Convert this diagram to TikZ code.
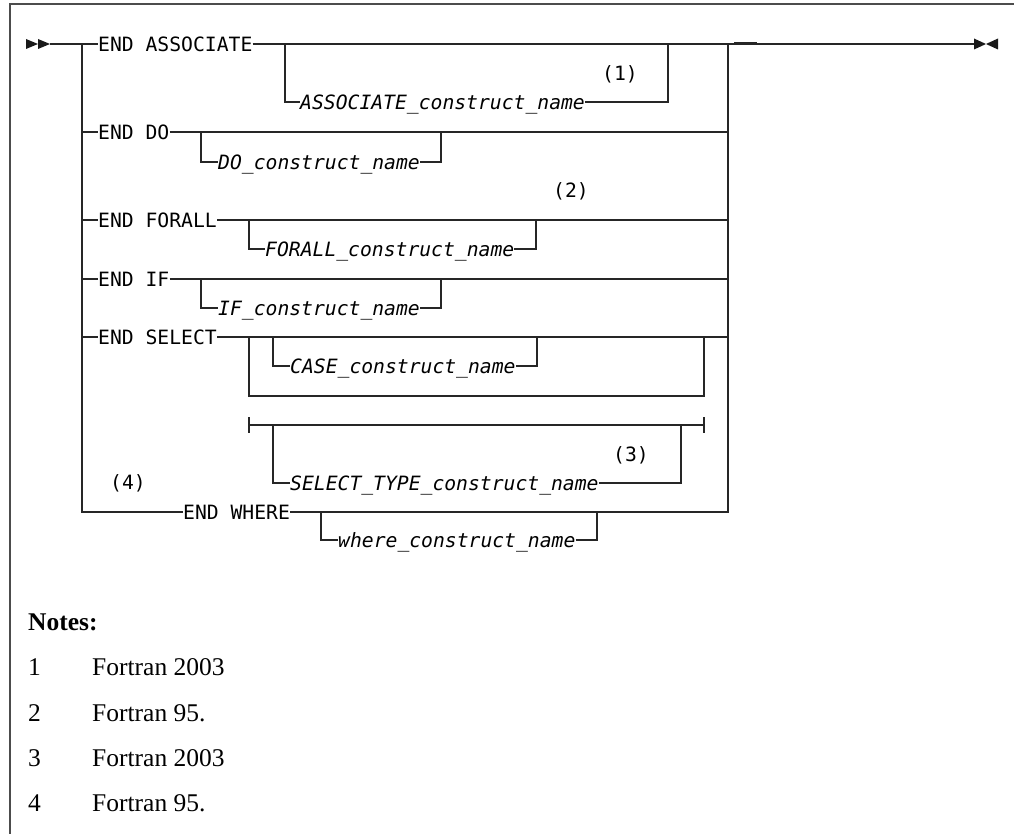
\documentclass[tikz,border=0pt]{standalone}
\usepackage{fontspec}
\newfontfamily\railfont{DejaVu Sans Mono}
\newfontfamily\notefont{Liberation Serif}
\usetikzlibrary{positioning}

\begin{document}
\begin{tikzpicture}[
        x=1pt, y=-1pt,
        rail/.style={line width=1.2pt, draw=black!85},
        keyword/.style={font=\railfont\fontsize{19.7}{24}\selectfont, inner sep=0pt, text height=14.4pt, text depth=0pt, anchor=west},
        varname/.style={keyword, font=\railfont\itshape\fontsize{19.7}{24}\selectfont},
        noteref/.style={font=\railfont\fontsize{19.7}{24}\selectfont, inner sep=0pt},
        notetext/.style={font=\notefont\fontsize{25.5}{30}\selectfont, inner sep=0pt, anchor=base west},
        tip/.style={fill=black!90}
    ]
        \useasboundingbox (0,0) rectangle (1014,834);
        \draw[black!70, line width=1.3pt] (10,834) -- (10,4) -- (1014,4);

        % start and end marks
        \fill[tip] (26,39) -- (38,44) -- (26,49) -- cycle;
        \fill[tip] (38,39) -- (50,44) -- (38,49) -- cycle;
        \fill[tip] (974,38.5) -- (986,44) -- (974,49.5) -- cycle;
        \fill[tip] (998,38.5) -- (986,44) -- (998,49.5) -- cycle;

        \coordinate (rail_in) at (50,44);
        \coordinate (rail_out) at (974,44);
        \coordinate (split) at (82,44);
        \coordinate (merge) at (728,44);

        \node[keyword] (kw_assoc) at (98,44) {END ASSOCIATE};
        \node[varname] (name_assoc) at (300,102) {ASSOCIATE\_construct\_name};
        \node[keyword] (kw_do) at (98,132) {END DO};
        \node[varname] (name_do) at (218,162) {DO\_construct\_name};
        \node[keyword] (kw_forall) at (98,220) {END FORALL};
        \node[varname] (name_forall) at (265,249) {FORALL\_construct\_name};
        \node[keyword] (kw_if) at (98,279) {END IF};
        \node[varname] (name_if) at (218,308) {IF\_construct\_name};
        \node[keyword] (kw_select) at (98,337) {END SELECT};
        \node[varname] (name_case) at (290,366) {CASE\_construct\_name};
        \node[varname] (name_seltype) at (290,483) {SELECT\_TYPE\_construct\_name};
        \node[keyword] (kw_where) at (183,512) {END WHERE};
        \node[varname] (name_where) at (338,540) {where\_construct\_name};

        \node[noteref] (ref_1) at (620,74) {(1)};
        \node[noteref] (ref_2) at (571,191) {(2)};
        \node[noteref] (ref_3) at (631,455) {(3)};
        \node[noteref] (ref_4) at (128,483) {(4)};

        % main line and collectors
        \draw[rail] (rail_in) -- (kw_assoc.west);
        \draw[rail] (kw_assoc.east) -- (rail_out);
        \draw[line width=2pt, black!85] (734,43.5) -- (757,43.5);
        \draw[rail] (split) |- (kw_where.west);
        \draw[rail] (merge) |- (kw_where.east);

        \draw[rail] (split |- kw_do.west) -- (kw_do.west);
        \draw[rail] (kw_do.east) -- (merge |- kw_do.east);
        \draw[rail] (split |- kw_forall.west) -- (kw_forall.west);
        \draw[rail] (kw_forall.east) -- (merge |- kw_forall.east);
        \draw[rail] (split |- kw_if.west) -- (kw_if.west);
        \draw[rail] (kw_if.east) -- (merge |- kw_if.east);
        \draw[rail] (split |- kw_select.west) -- (kw_select.west);
        \draw[rail] (kw_select.east) -- (merge |- kw_select.east);

        % optional names
        \coordinate (opt_assoc_in) at (285,44);
        \coordinate (opt_assoc_out) at (668,44);
        \draw[rail] (opt_assoc_in) |- (name_assoc.west);
        \draw[rail] (name_assoc.east) -| (opt_assoc_out);

        \coordinate (opt_do_in) at (201,132);
        \coordinate (opt_do_out) at (441,132);
        \draw[rail] (opt_do_in) |- (name_do.west);
        \draw[rail] (name_do.east) -| (opt_do_out);

        \coordinate (opt_forall_in) at (249,220);
        \coordinate (opt_forall_out) at (536,220);
        \draw[rail] (opt_forall_in) |- (name_forall.west);
        \draw[rail] (name_forall.east) -| (opt_forall_out);

        \coordinate (opt_if_in) at (201,279);
        \coordinate (opt_if_out) at (441,279);
        \draw[rail] (opt_if_in) |- (name_if.west);
        \draw[rail] (name_if.east) -| (opt_if_out);

        % select: case / select type
        \coordinate (sel_in) at (249,337);
        \coordinate (sel_out) at (704,337);
        \draw[rail] (sel_in) -- (249,396) -- (704,396) -- (sel_out);
        \coordinate (opt_case_in) at (273,337);
        \coordinate (opt_case_out) at (537,337);
        \draw[rail] (opt_case_in) |- (name_case.west);
        \draw[rail] (name_case.east) -| (opt_case_out);

        \coordinate (frag_in) at (249,425);
        \coordinate (frag_out) at (704,425);
        \draw[rail] (frag_in) -- (frag_out);
        \draw[rail] (249,417) -- (249,433);
        \draw[rail] (704,417) -- (704,433);
        \coordinate (opt_seltype_in) at (273,425);
        \coordinate (opt_seltype_out) at (681,425);
        \draw[rail] (opt_seltype_in) |- (name_seltype.west);
        \draw[rail] (name_seltype.east) -| (opt_seltype_out);

        \coordinate (opt_where_in) at (321,512);
        \coordinate (opt_where_out) at (597,512);
        \draw[rail] (opt_where_in) |- (name_where.west);
        \draw[rail] (name_where.east) -| (opt_where_out);

        % notes
        \node[notetext, font=\notefont\bfseries\fontsize{25.5}{30}\selectfont] (notes_title) at (28,630) {Notes:};
        \node[notetext] (num_1) at (28,675) {1};
        \node[notetext] (note_1) at (92,675) {Fortran 2003};
        \node[notetext] (num_2) at (28,721) {2};
        \node[notetext] (note_2) at (92,721) {Fortran 95.};
        \node[notetext] (num_3) at (28,766) {3};
        \node[notetext] (note_3) at (92,766) {Fortran 2003};
        \node[notetext] (num_4) at (28,811) {4};
        \node[notetext] (note_4) at (92,811) {Fortran 95.};

    \end{tikzpicture}
\end{document}
